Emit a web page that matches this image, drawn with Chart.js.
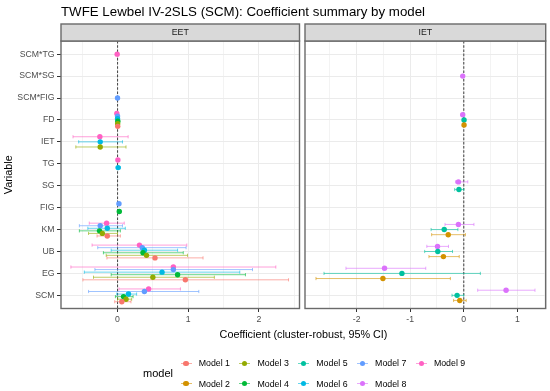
<!DOCTYPE html>
<html>
<head>
<meta charset="utf-8">
<script src="https://cdn.jsdelivr.net/npm/chart.js@4.4.1/dist/chart.umd.min.js"></script>
<style>
html,body{margin:0;padding:0;background:#fff;}
#wrap{position:relative;width:550px;height:391px;overflow:hidden;font-family:"Liberation Sans",Arial,sans-serif;}
#wrap canvas{position:absolute;left:0;top:0;}
.txt{position:absolute;white-space:nowrap;line-height:1;}
.key{position:absolute;}
</style>
</head>
<body>
<div id="wrap">
  <canvas id="cA" width="550" height="391" style="width:550px;height:391px"></canvas>
  <canvas id="cB" width="550" height="391" style="width:550px;height:391px"></canvas>
</div>
<script>
// ---------------- DATA ----------------
const variables = ['SCM*TG','SCM*SG','SCM*FIG','FD','IET','TG','SG','FIG','KM','UB','EG','SCM'];
const panels = ['EET','IET'];
const modelNames = ['Model 1','Model 2','Model 3','Model 4','Model 5','Model 6','Model 7','Model 8','Model 9'];
const modelPanel = ['EET','IET','EET','EET','IET','EET','EET','IET','EET'];
const eetTicks = [-0.5, 0, 0.5, 1, 1.5, 2, 2.5];
const ietTicks = [-2.5, -2, -1.5, -1, -0.5, 0, 0.5, 1, 1.5];
const n = null;
// order:       SCM*TG SCM*SG SCM*FIG FD     IET     TG     SG     FIG    KM      UB      EG      SCM
const est1 = [n, n, n, 0.003, n, n, n, n, -0.145, 0.53, 0.96, 0.06];
const lo1  = [n, n, n, -0.006, n, n, n, n, -0.29, -0.15, -0.49, -0.04];
const hi1  = [n, n, n, 0.012, n, n, n, n, 0.04, 1.21, 2.42, 0.19];
const est2 = [n, n, n, 0.005, n, n, n, n, -0.29, -0.38, -1.51, -0.075];
const lo2  = [n, n, n, -0.005, n, n, n, n, -0.6, -0.65, -2.76, -0.19];
const hi2  = [n, n, n, 0.015, n, n, n, n, 0.03, -0.085, -0.25, 0.045];
const est3 = [n, n, n, 0.002, -0.245, n, n, n, -0.215, 0.41, 0.50, 0.12];
const lo3  = [n, n, n, -0.007, -0.59, n, n, n, -0.41, -0.16, -0.34, 0.0];
const hi3  = [n, n, n, 0.011, 0.12, n, n, n, 0.0, 0.99, 1.37, 0.2];
const est4 = [n, n, n, 0.004, n, n, n, 0.025, -0.255, 0.36, 0.85, 0.085];
const lo4  = [n, n, n, -0.005, n, n, n, 0.01, -0.54, -0.2, -0.09, -0.03];
const hi4  = [n, n, n, 0.013, n, n, n, 0.04, 0.04, 0.93, 1.81, 0.22];
const est5 = [n, n, n, 0.005, n, n, -0.09, n, -0.365, -0.485, -1.155, -0.125];
const lo5  = [n, n, n, -0.005, n, n, -0.17, n, -0.61, -0.73, -2.61, -0.22];
const hi5  = [n, n, n, 0.015, n, n, 0.0, n, -0.11, -0.21, 0.31, 0.0];
const est6 = [n, n, n, 0.0, -0.245, 0.008, n, n, -0.145, 0.38, 0.63, 0.155];
const lo6  = [n, n, n, -0.009, -0.55, -0.005, n, n, -0.42, -0.09, -0.47, -0.01];
const hi6  = [n, n, n, 0.009, 0.07, 0.04, n, n, 0.11, 0.85, 1.73, 0.27];
const est7 = [n, n, 0.0, 0.0, n, n, n, 0.02, -0.245, 0.35, 0.79, 0.38];
const lo7  = [n, n, -0.01, -0.01, n, n, n, 0.005, -0.54, -0.28, -0.32, -0.41];
const hi7  = [n, n, 0.01, 0.01, n, n, n, 0.035, 0.07, 0.97, 1.91, 1.15];
const est8 = [n, -0.02, n, -0.02, n, n, -0.1, n, -0.1, -0.49, -1.48, 0.79];
const lo8  = [n, -0.04, n, -0.04, n, n, -0.155, n, -0.35, -0.69, -2.2, 0.26];
const hi8  = [n, 0.0, n, 0.0, n, n, 0.075, n, 0.19, -0.285, -0.71, 1.33];
const est9 = [-0.005, n, n, -0.01, -0.25, 0.005, n, n, -0.155, 0.31, 0.79, 0.44];
const lo9  = [-0.015, n, n, -0.02, -0.63, -0.01, n, n, -0.40, -0.36, -0.66, 0.02];
const hi9  = [0.005, n, n, 0.0, 0.15, 0.02, n, n, 0.095, 0.98, 2.24, 0.89];

const estimates = [est1, est2, est3, est4, est5, est6, est7, est8, est9];
const lowers    = [lo1, lo2, lo3, lo4, lo5, lo6, lo7, lo8, lo9];
const uppers    = [hi1, hi2, hi3, hi4, hi5, hi6, hi7, hi8, hi9];

// ---------------- STYLE ----------------
const modelColors = ['#F8766D','#D39200','#93AA00','#00BA38','#00C19F','#00B9E3','#619CFF','#DB72FB','#FF61C3'];
const FONT = '"Liberation Sans", Arial, sans-serif';
const dodgeWidth = 0.7;
Chart.defaults.font.family = FONT;

function rgba(hex, a) {
  const v = parseInt(hex.slice(1), 16);
  return `rgba(${(v>>16)&255},${(v>>8)&255},${v&255},${a})`;
}

function dodgeOffset(panel, vi, m) {
  const present = [];
  for (let k = 0; k < modelNames.length; k++) {
    if (modelPanel[k] === panel && estimates[k][vi] !== null) present.push(k);
  }
  const cnt = present.length, r = present.indexOf(m);
  return dodgeWidth / 2 - (r + 0.5) / cnt * dodgeWidth;
}

function buildDatasets(panel) {
  const ds = [];
  for (let m = 0; m < modelNames.length; m++) {
    if (modelPanel[m] !== panel) continue;
    const data = [];
    variables.forEach((v, vi) => {
      if (estimates[m][vi] === null) return;
      data.push({ x: estimates[m][vi], y: vi + 1 + dodgeOffset(panel, vi, m), lo: lowers[m][vi], hi: uppers[m][vi] });
    });
    ds.push({
      label: modelNames[m], data,
      pointRadius: 2.7, pointHoverRadius: 2.7, pointBorderWidth: 0,
      pointBackgroundColor: modelColors[m], borderColor: modelColors[m],
      showLine: false, _color: modelColors[m]
    });
  }
  return ds;
}

const panelPlugin = {
  id: 'panelPlugin',
  beforeDatasetsDraw(chart) {
    const ctx = chart.ctx, xs = chart.scales.x, ys = chart.scales.y, a = chart.chartArea;
    ctx.save();
    ctx.beginPath(); ctx.rect(a.left, a.top, a.right - a.left, a.bottom - a.top); ctx.clip();
    // zero reference line
    const x0 = xs.getPixelForValue(0);
    ctx.strokeStyle = '#4D4D4D'; ctx.lineWidth = 1.1; ctx.setLineDash([2.6, 1.6]);
    ctx.beginPath(); ctx.moveTo(x0, a.top); ctx.lineTo(x0, a.bottom); ctx.stroke();
    ctx.setLineDash([]);
    // error bars
    chart.data.datasets.forEach(d => {
      ctx.strokeStyle = rgba(d._color, 0.6); ctx.lineWidth = 1;
      d.data.forEach(p => {
        const x1 = xs.getPixelForValue(p.lo), x2 = xs.getPixelForValue(p.hi), y = ys.getPixelForValue(p.y);
        ctx.beginPath();
        ctx.moveTo(x1, y); ctx.lineTo(x2, y);
        ctx.moveTo(x1, y - 1.6); ctx.lineTo(x1, y + 1.6);
        ctx.moveTo(x2, y - 1.6); ctx.lineTo(x2, y + 1.6);
        ctx.stroke();
      });
    });
    ctx.restore();
  },
  afterDraw(chart) {
    const ctx = chart.ctx, a = chart.chartArea;
    ctx.save();
    ctx.strokeStyle = '#6A6A6A'; ctx.lineWidth = 1.4;
    ctx.strokeRect(a.left, a.top, a.right - a.left, a.bottom - a.top);
    // facet strip
    const sh = 17;
    ctx.fillStyle = '#D9D9D9';
    ctx.fillRect(a.left, a.top - sh, a.right - a.left, sh);
    ctx.strokeRect(a.left, a.top - sh, a.right - a.left, sh);
    ctx.fillStyle = '#1A1A1A';
    ctx.font = '8.8px ' + FONT;
    ctx.textAlign = 'center'; ctx.textBaseline = 'middle';
    ctx.fillText(chart.options.plugins.panelPlugin.label, (a.left + a.right) / 2, a.top - sh / 2 + 0.5);
    ctx.restore();
  }
};

function makeChart(id, panel, xMin, xMax, ticks, padLeft, padRight, showY) {
  return new Chart(document.getElementById(id), {
    type: 'scatter',
    data: { datasets: buildDatasets(panel) },
    plugins: [panelPlugin],
    options: {
      responsive: false, animation: false, devicePixelRatio: 1,
      layout: { padding: { top: 41, bottom: 62.5, left: padLeft, right: padRight } },
      plugins: { legend: { display: false }, tooltip: { enabled: false }, panelPlugin: { label: panel } },
      scales: {
        x: {
          type: 'linear', min: xMin, max: xMax,
          afterBuildTicks: s => { s.ticks = ticks.map(v => ({ value: v })); },
          afterFit: s => { s.height = 20; },
          ticks: { autoSkip: false, maxRotation: 0, padding: 2, color: '#4D4D4D', font: { size: 8.7 },
                   callback: v => Number.isInteger(v) ? String(v) : '' },
          grid: { color: c => (c.tick && Number.isInteger(c.tick.value)) ? '#EBEBEB' : '#F3F3F3', lineWidth: 1,
                  tickLength: 3.5, tickWidth: 1,
                  tickColor: c => (c.tick && Number.isInteger(c.tick.value)) ? '#333333' : 'rgba(0,0,0,0)' },
          border: { display: false }
        },
        y: {
          type: 'linear', reverse: true, min: 0.4, max: 12.6,
          afterBuildTicks: s => { s.ticks = variables.map((v, i) => ({ value: i + 1 })); },
          afterFit: s => { s.width = showY ? 61 : 0; },
          ticks: { display: showY, autoSkip: false, padding: 2.5, color: '#4D4D4D', font: { size: 8.7 },
                   callback: v => variables[v - 1] },
          grid: { color: '#EBEBEB', lineWidth: 1, drawTicks: showY, tickLength: 4, tickColor: '#333333', tickWidth: 1 },
          border: { display: false },
          title: { display: showY, text: 'Variable', color: '#000000', font: { size: 10.8 }, padding: { top: 2.5, bottom: 0 } }
        }
      }
    }
  });
}

makeChart('cA', panels[0], -0.80, 2.575, eetTicks, 0, 550 - 299.5, true);
makeChart('cB', panels[1], -2.965, 1.53, ietTicks, 305, 550 - 545.7, false);

// ---------------- TEXT (title, x title, legend) ----------------
const wrap = document.getElementById('wrap');
function addText(t, left, baseline, size, color, align) {
  const d = document.createElement('div');
  d.className = 'txt'; d.textContent = t;
  d.style.fontSize = size + 'px'; d.style.color = color;
  d.style.top = (baseline - 0.847 * size) + 'px';
  if (align === 'center') { d.style.left = left + 'px'; d.style.transform = 'translateX(-50%)'; }
  else d.style.left = left + 'px';
  wrap.appendChild(d);
  return d;
}
addText('TWFE Lewbel IV-2SLS (SCM): Coefficient summary by model', 61, 16.7, 13.3, '#000', 'left');
addText('Coefficient (cluster-robust, 95% CI)', 303.5, 337.8, 10.8, '#000', 'center');
addText('model', 143, 377.8, 11, '#000', 'left');

modelNames.forEach((name, i) => {
  const col = Math.floor(i / 2), row = i % 2;
  const tx = 198.7 + col * 58.8;
  const base = row === 0 ? 366.6 : 387;
  const cy = base - 3.2;
  const kx = tx - 12.7;
  const line = document.createElement('div');
  line.className = 'key';
  line.style.left = (kx - 5.5) + 'px'; line.style.top = (cy - 0.5) + 'px';
  line.style.width = '11px'; line.style.height = '1px';
  line.style.background = rgba(modelColors[i], 0.6);
  wrap.appendChild(line);
  const dot = document.createElement('div');
  dot.className = 'key';
  dot.style.left = (kx - 2.7) + 'px'; dot.style.top = (cy - 2.7) + 'px';
  dot.style.width = '5.4px'; dot.style.height = '5.4px'; dot.style.borderRadius = '50%';
  dot.style.background = modelColors[i];
  wrap.appendChild(dot);
  addText(name, tx, base, 8.8, '#000', 'left');
});
</script>
</body>
</html>
